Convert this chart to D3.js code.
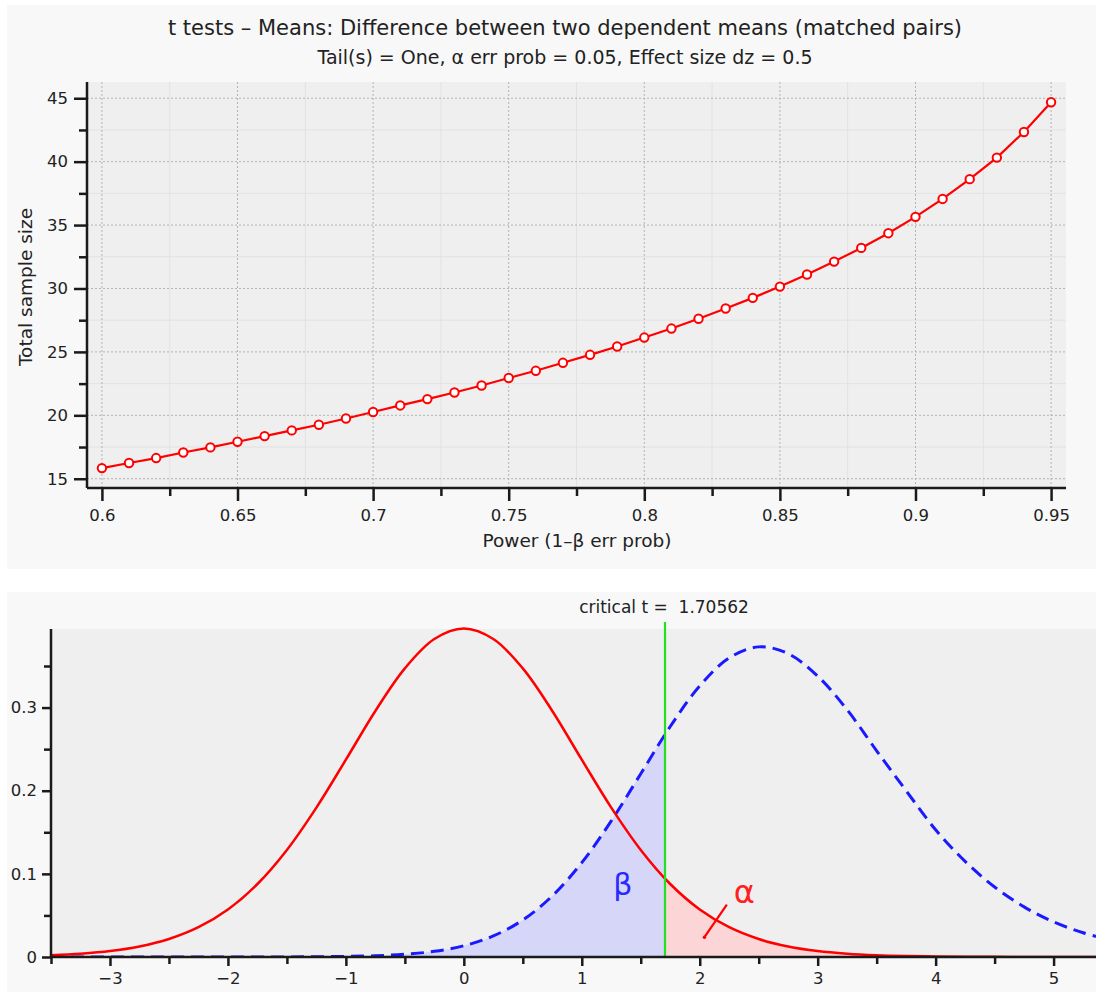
<!DOCTYPE html>
<html>
<head>
<meta charset="utf-8">
<script src="https://cdn.jsdelivr.net/npm/d3@7"></script>
<style>
  body { margin: 0; background: #ffffff; }
  svg text { font-family: "DejaVu Sans", "Noto Sans", sans-serif; fill: #222; }
</style>
</head>
<body>
<svg id="chart" width="1096" height="992"></svg>
<script>
// ---- top chart data: total sample size vs power ----
const powerValues = [0.60, 0.61, 0.62, 0.63, 0.64, 0.65, 0.66, 0.67, 0.68, 0.69,
                     0.70, 0.71, 0.72, 0.73, 0.74, 0.75, 0.76, 0.77, 0.78, 0.79,
                     0.80, 0.81, 0.82, 0.83, 0.84, 0.85, 0.86, 0.87, 0.88, 0.89,
                     0.90, 0.91, 0.92, 0.93, 0.94, 0.95];
const sampleSizes = [15.84, 16.24, 16.63, 17.07, 17.47, 17.92, 18.36, 18.81, 19.26, 19.75,
                     20.26, 20.78, 21.28, 21.80, 22.35, 22.94, 23.51, 24.14, 24.77, 25.43,
                     26.13, 26.84, 27.61, 28.42, 29.26, 30.15, 31.10, 32.12, 33.20, 34.36,
                     35.65, 37.06, 38.62, 40.32, 42.34, 44.68];
const powerTicks = [0.6, 0.65, 0.7, 0.75, 0.8, 0.85, 0.9, 0.95];
const powerMinorTicks = [0.625, 0.675, 0.725, 0.775, 0.825, 0.875, 0.925];
const sizeTicks = [15, 20, 25, 30, 35, 40, 45];
const sizeMinorTicks = [17.5, 22.5, 27.5, 32.5, 37.5, 42.5];

// ---- bottom chart data: densities ----
const tValues = [-3.5, -3.25, -3, -2.75, -2.5, -2.25, -2, -1.75, -1.5, -1.25,
                 -1, -0.75, -0.5, -0.25, 0, 0.25, 0.5, 0.75, 1, 1.25,
                 1.5, 1.75, 2, 2.25, 2.5, 2.75, 3, 3.25, 3.5, 3.75,
                 4, 4.25, 4.5, 4.75, 5, 5.25, 5.5];
const nullDensity = [0.0022, 0.0040, 0.0071, 0.0126, 0.0216, 0.0358, 0.0572, 0.0878, 0.1288, 0.1797,
                     0.2373, 0.2959, 0.3471, 0.3824, 0.3950, 0.3824, 0.3471, 0.2959, 0.2373, 0.1797,
                     0.1288, 0.0878, 0.0572, 0.0358, 0.0216, 0.0126, 0.0071, 0.0040, 0.0022, 0.0012,
                     0.0006, 0.0003, 0.0002, 0.0001, 0.0000, 0.0000, 0.0000];
const altDensity = [0.0000, 0.0000, 0.0000, 0.0000, 0.0000, 0.0001, 0.0001, 0.0001, 0.0001, 0.0003,
                    0.0007, 0.0015, 0.0033, 0.0068, 0.0135, 0.0253, 0.0445, 0.0735, 0.1135, 0.1637,
                    0.2204, 0.2772, 0.3261, 0.3597, 0.3730, 0.3648, 0.3378, 0.2973, 0.2480, 0.2000,
                    0.1530, 0.1150, 0.0842, 0.0603, 0.0422, 0.0292, 0.0200];
const tTicks = [-3, -2, -1, 0, 1, 2, 3, 4, 5];
const tMinorTicks = [-3.5, -2.5, -1.5, -0.5, 0.5, 1.5, 2.5, 3.5, 4.5];
const densityTicks = [0, 0.1, 0.2, 0.3];
const densityMinorTicks = [0.05, 0.15, 0.25, 0.35];
const criticalT = 1.70562;

const svg = d3.select("#chart");

// panel backgrounds
svg.append("rect").attr("x", 7).attr("y", 5).attr("width", 1089).attr("height", 564).attr("fill", "#f8f8f8");
svg.append("rect").attr("x", 7).attr("y", 592).attr("width", 1089).attr("height", 400).attr("fill", "#f8f8f8");

function styleAxis(a) {
    a.select(".domain").attr("stroke", "#1a1a1a").attr("stroke-width", 2.5);
    a.selectAll(".tick line").attr("stroke", "#1a1a1a").attr("stroke-width", 2.5);
    a.selectAll(".tick text").attr("font-size", 16.5).attr("fill", "#333")
        .style("font-family", '"DejaVu Sans", sans-serif');
}

// ================= TOP CHART =================
const box1 = { left: 87, right: 1066, top: 82, bottom: 488 };

const x1 = d3.scaleLinear().domain([0.5945, 0.9555]).range([box1.left, box1.right]);
const y1 = d3.scaleLinear().domain([14.27, 46.28]).range([box1.bottom, box1.top]);

svg.append("rect")
    .attr("x", box1.left).attr("y", box1.top)
    .attr("width", box1.right - box1.left).attr("height", box1.bottom - box1.top)
    .attr("fill", "#efefef");

// minor grid
const grid = svg.append("g");
powerMinorTicks.forEach(v => {
    grid.append("line").attr("x1", x1(v)).attr("x2", x1(v)).attr("y1", box1.top).attr("y2", box1.bottom)
        .attr("stroke", "#e2e2e2").attr("stroke-width", 1);
});
sizeMinorTicks.forEach(v => {
    grid.append("line").attr("y1", y1(v)).attr("y2", y1(v)).attr("x1", box1.left).attr("x2", box1.right)
        .attr("stroke", "#e2e2e2").attr("stroke-width", 1);
});
// major grid (dotted)
powerTicks.forEach(v => {
    grid.append("line").attr("x1", x1(v)).attr("x2", x1(v)).attr("y1", box1.top).attr("y2", box1.bottom)
        .attr("stroke", "#b4b4b4").attr("stroke-width", 1).attr("stroke-dasharray", "2,2");
});
sizeTicks.forEach(v => {
    grid.append("line").attr("y1", y1(v)).attr("y2", y1(v)).attr("x1", box1.left).attr("x2", box1.right)
        .attr("stroke", "#b4b4b4").attr("stroke-width", 1).attr("stroke-dasharray", "2,2");
});

// axes
const xAxis1 = svg.append("g").attr("transform", `translate(0,${box1.bottom})`)
    .call(d3.axisBottom(x1).tickValues(powerTicks).tickSize(13).tickPadding(8).tickFormat(d3.format("")));
const xAxis1Minor = svg.append("g").attr("transform", `translate(0,${box1.bottom})`)
    .call(d3.axisBottom(x1).tickValues(powerMinorTicks).tickSize(8).tickFormat(""));
const yAxis1 = svg.append("g").attr("transform", `translate(${box1.left},0)`)
    .call(d3.axisLeft(y1).tickValues(sizeTicks).tickSize(13).tickPadding(6));
const yAxis1Minor = svg.append("g").attr("transform", `translate(${box1.left},0)`)
    .call(d3.axisLeft(y1).tickValues(sizeMinorTicks).tickSize(8).tickFormat(""));

[xAxis1, xAxis1Minor, yAxis1, yAxis1Minor].forEach(styleAxis);
// keep the axis lines to the plot edges only
xAxis1.select(".domain").attr("d", `M${box1.left},0H${box1.right}`);
xAxis1Minor.select(".domain").remove();
yAxis1.select(".domain").attr("d", `M0,${box1.top}V${box1.bottom}`);
yAxis1Minor.select(".domain").remove();

// line + markers
const line1 = d3.line().x((d, i) => x1(powerValues[i])).y(d => y1(d));
svg.append("path").datum(sampleSizes)
    .attr("d", line1).attr("fill", "none").attr("stroke", "#ff0000").attr("stroke-width", 2.2);
svg.append("g").selectAll("circle").data(sampleSizes).join("circle")
    .attr("cx", (d, i) => x1(powerValues[i])).attr("cy", d => y1(d)).attr("r", 4.2)
    .attr("fill", "#ffffff").attr("stroke", "#ff0000").attr("stroke-width", 2);

// titles
svg.append("text").attr("x", 565).attr("y", 35).attr("text-anchor", "middle")
    .attr("font-size", 21).text("t tests – Means: Difference between two dependent means (matched pairs)");
svg.append("text").attr("x", 565).attr("y", 64).attr("text-anchor", "middle")
    .attr("font-size", 19).text("Tail(s) = One, α err prob = 0.05, Effect size dz = 0.5");
svg.append("text").attr("x", 577).attr("y", 547).attr("text-anchor", "middle")
    .attr("font-size", 18.5).text("Power (1–β err prob)");
svg.append("text").attr("transform", "translate(32,287) rotate(-90)").attr("text-anchor", "middle")
    .attr("font-size", 18.5).text("Total sample size");

// ================= BOTTOM CHART =================
const box2 = { left: 51, right: 1096, top: 629, bottom: 957 };

const x2 = d3.scaleLinear().domain([-3.5, 5.3596]).range([box2.left, box2.right]);
const y2 = d3.scaleLinear().domain([0, 0.3945]).range([box2.bottom, box2.top]);

svg.append("rect")
    .attr("x", box2.left).attr("y", box2.top)
    .attr("width", box2.right - box2.left).attr("height", box2.bottom - box2.top)
    .attr("fill", "#efefef");

const defs = svg.append("defs");
defs.append("clipPath").attr("id", "plotClip").append("rect")
    .attr("x", box2.left).attr("y", box2.top - 2).attr("width", box2.right - box2.left).attr("height", box2.bottom - box2.top + 2);
defs.append("clipPath").attr("id", "betaClip").append("rect")
    .attr("x", box2.left).attr("y", box2.top).attr("width", x2(criticalT) - box2.left).attr("height", box2.bottom - box2.top);
defs.append("clipPath").attr("id", "alphaClip").append("rect")
    .attr("x", x2(criticalT)).attr("y", box2.top).attr("width", box2.right - x2(criticalT)).attr("height", box2.bottom - box2.top);

const area2 = d3.area().curve(d3.curveCatmullRom)
    .x((d, i) => x2(tValues[i])).y0(y2(0)).y1(d => y2(d));
const line2 = d3.line().curve(d3.curveCatmullRom)
    .x((d, i) => x2(tValues[i])).y(d => y2(d));

const plot2 = svg.append("g").attr("clip-path", "url(#plotClip)");

plot2.append("path").datum(altDensity).attr("d", area2)
    .attr("fill", "#d6d6f8").attr("clip-path", "url(#betaClip)");
plot2.append("path").datum(nullDensity).attr("d", area2)
    .attr("fill", "#fcd6d6").attr("clip-path", "url(#alphaClip)");

plot2.append("path").datum(altDensity).attr("d", line2)
    .attr("fill", "none").attr("stroke", "#1a1aff").attr("stroke-width", 3)
    .attr("stroke-dasharray", "13,7");
plot2.append("path").datum(nullDensity).attr("d", line2)
    .attr("fill", "none").attr("stroke", "#ff0000").attr("stroke-width", 2.5);

// critical t line
svg.append("line").attr("x1", x2(criticalT)).attr("x2", x2(criticalT))
    .attr("y1", 622).attr("y2", box2.bottom)
    .attr("stroke", "#22e022").attr("stroke-width", 2.2);
svg.append("text").attr("x", x2(criticalT) - 1).attr("y", 613).attr("text-anchor", "middle")
    .attr("font-size", 17).attr("fill", "#333").style("white-space", "pre")
    .text("critical t =  1.70562");

// beta / alpha labels
svg.append("text").attr("x", x2(1.348)).attr("y", y2(0.0884) + 11).attr("text-anchor", "middle")
    .attr("font-size", 30).style("fill", "#2a2aff").text("β");
svg.append("line").attr("x1", x2(2.04)).attr("y1", y2(0.0238))
    .attr("x2", x2(2.23)).attr("y2", y2(0.0630))
    .attr("stroke", "#ff0000").attr("stroke-width", 2.2);
svg.append("circle").attr("cx", x2(2.04)).attr("cy", y2(0.0238)).attr("r", 1.8).attr("fill", "#ff0000");
svg.append("text").attr("x", x2(2.378)).attr("y", y2(0.0764) + 10).attr("text-anchor", "middle")
    .attr("font-size", 32).style("fill", "#ff2020").text("α");

// axes
const xAxis2 = svg.append("g").attr("transform", `translate(0,${box2.bottom})`)
    .call(d3.axisBottom(x2).tickValues(tTicks).tickSize(9).tickPadding(6).tickFormat(d3.format("")));
const xAxis2Minor = svg.append("g").attr("transform", `translate(0,${box2.bottom})`)
    .call(d3.axisBottom(x2).tickValues(tMinorTicks).tickSize(7).tickFormat(""));
const yAxis2 = svg.append("g").attr("transform", `translate(${box2.left},0)`)
    .call(d3.axisLeft(y2).tickValues(densityTicks).tickSize(9).tickPadding(5).tickFormat(d3.format("")));
const yAxis2Minor = svg.append("g").attr("transform", `translate(${box2.left},0)`)
    .call(d3.axisLeft(y2).tickValues(densityMinorTicks).tickSize(7).tickFormat(""));

[xAxis2, xAxis2Minor, yAxis2, yAxis2Minor].forEach(styleAxis);
xAxis2.select(".domain").attr("d", `M${box2.left},0H${box2.right}`);
xAxis2Minor.select(".domain").remove();
yAxis2.select(".domain").attr("d", `M0,${box2.top}V${box2.bottom}`);
yAxis2Minor.select(".domain").remove();
</script>
</body>
</html>
